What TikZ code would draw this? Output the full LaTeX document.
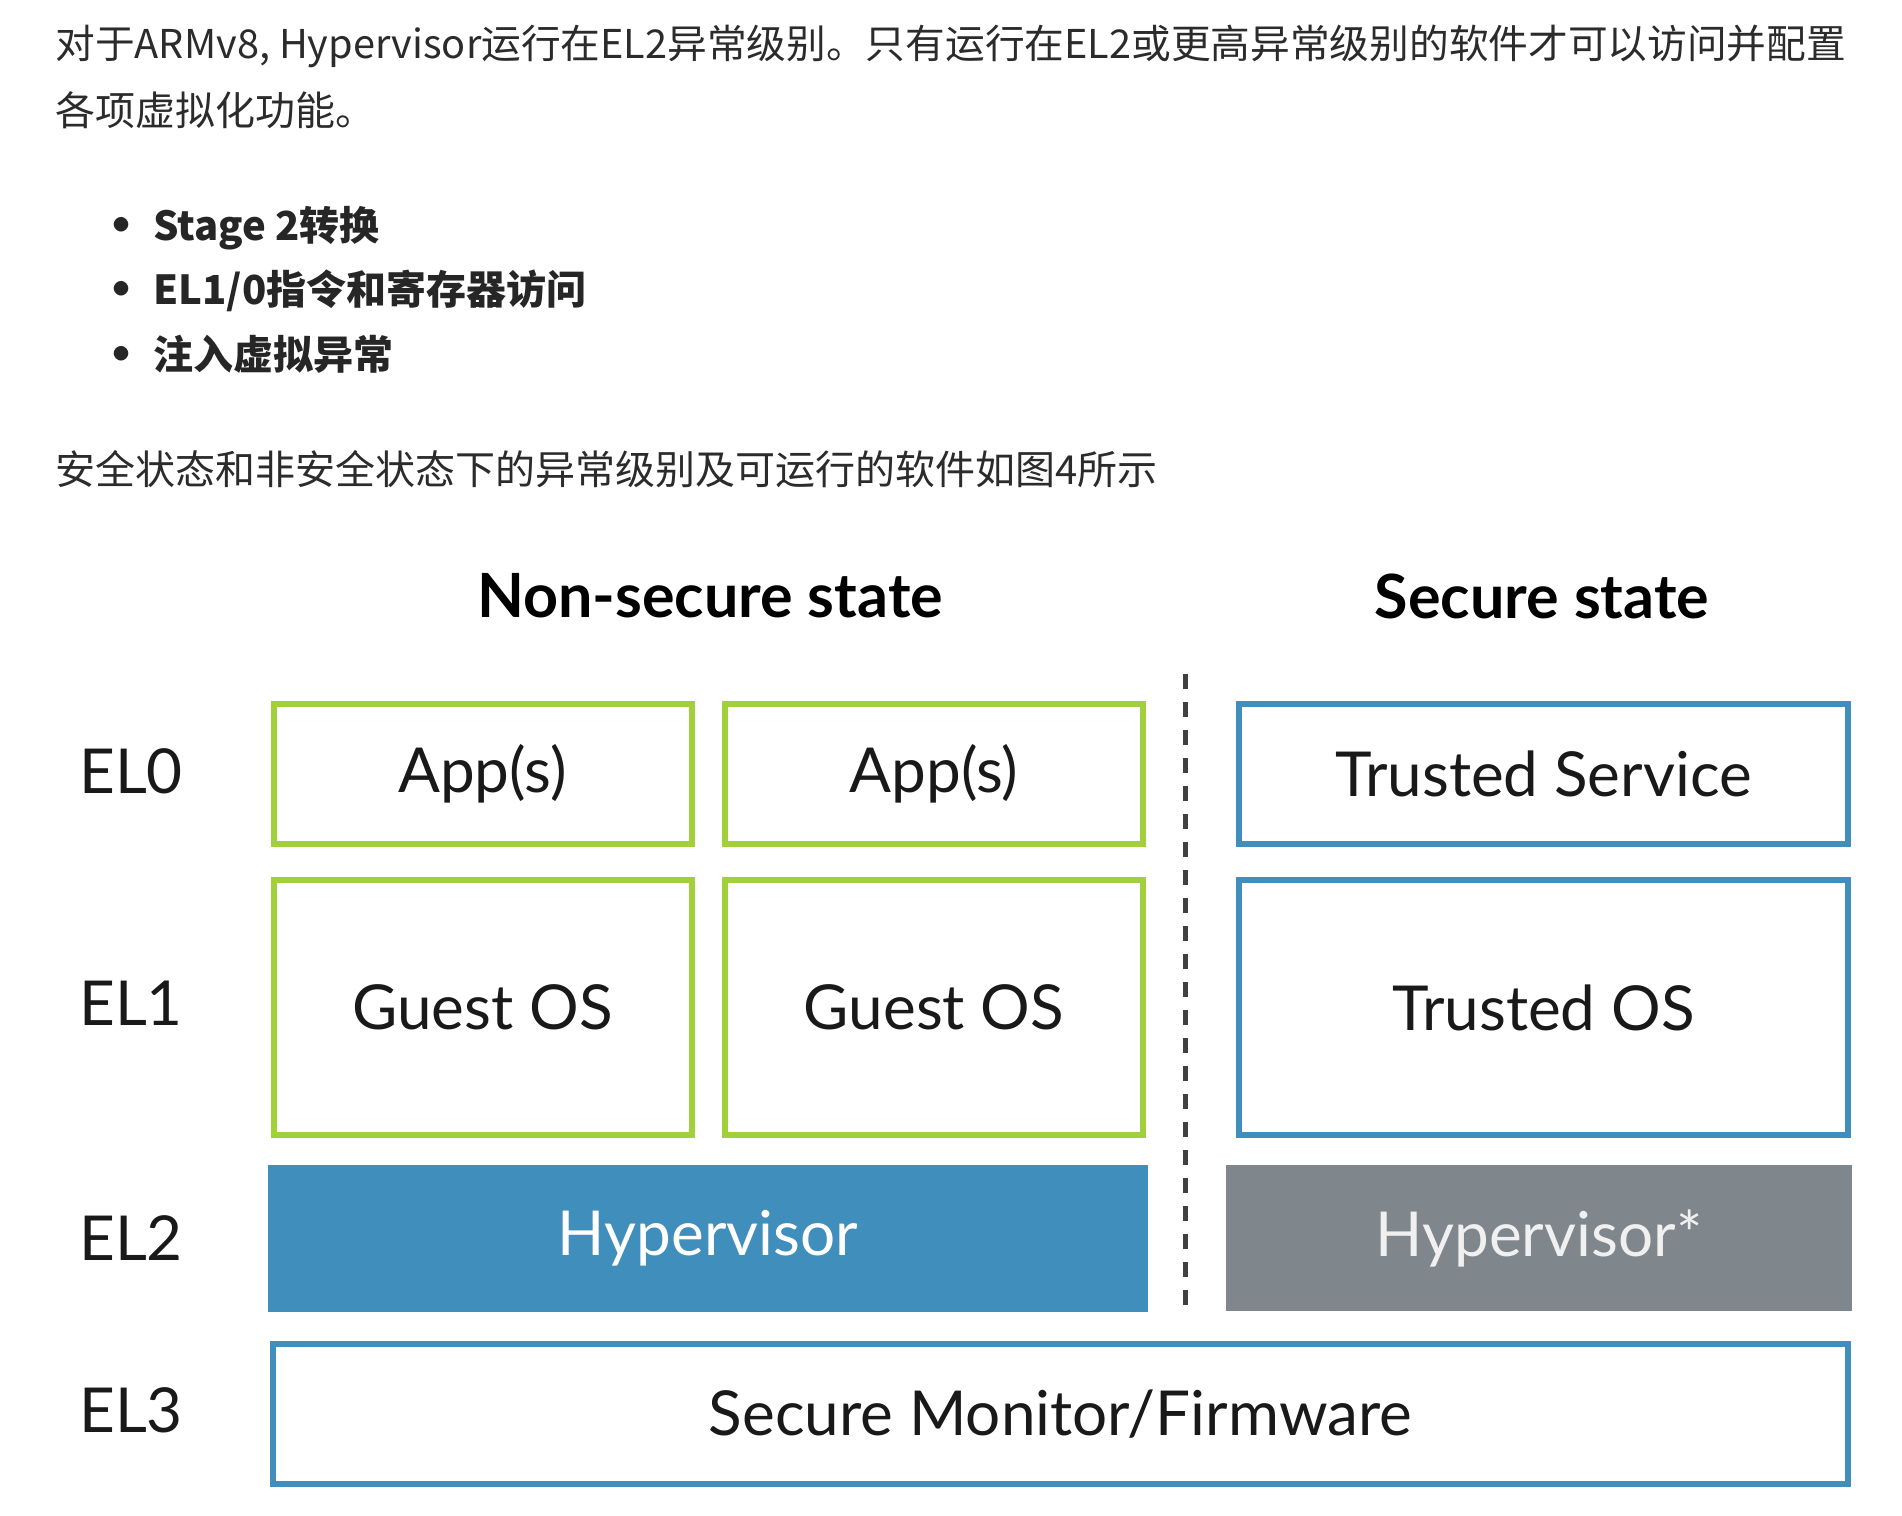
\documentclass[tikz,border=0pt]{standalone}
\usepackage{fontspec}
\setmainfont{Lato}
\newfontfamily\cjk{Noto Sans CJK SC}
\definecolor{nsgreen}{HTML}{A2D03C}
\definecolor{secblue}{HTML}{3F8EBB}
\definecolor{hypgray}{HTML}{7F868C}
\definecolor{bodytext}{HTML}{2B2B2B}

\begin{document}
\begin{tikzpicture}[x=0.5pt,y=-0.5pt]
    \tikzstyle{para}=[anchor=west,inner sep=0pt,text=bodytext,font=\cjk\fontsize{20pt}{24pt}\selectfont]
    \tikzstyle{item}=[para,anchor=base west,font=\cjk\bfseries\fontsize{20pt}{24pt}\selectfont,text=black!85]
    \tikzstyle{heading}=[inner sep=0pt,font=\bfseries\fontsize{30.5pt}{36pt}\selectfont]
    \tikzstyle{level}=[inner sep=0pt,font=\fontsize{31pt}{36pt}\selectfont,text=black!90]
    \tikzstyle{layer}=[draw,line width=3pt,inner sep=0pt,font=\fontsize{31pt}{36pt}\selectfont,text=black!90]
    \tikzstyle{ns layer}=[layer,draw=nsgreen];
    \tikzstyle{sec layer}=[layer,draw=secblue];
    \tikzstyle{hyp layer}=[inner sep=0pt,font=\fontsize{31pt}{36pt}\selectfont,text=white]

    \useasboundingbox (0,0) rectangle (1902,1516);

    % Text above the figure
    \node[para,font=\cjk\fontsize{19.85pt}{24pt}\selectfont] (line-1) at (55,46) {对于ARMv8, Hypervisor运行在EL2异常级别。只有运行在EL2或更高异常级别的软件才可以访问并配置};
    \node[para] (line-2) at (55,110) {各项虚拟化功能。};
    \foreach \name / \y / \txt in {1/240/{Stage 2转换}, 2/304/{EL1/0指令和寄存器访问}, 3/369/{注入虚拟异常}} {
        \node[item,anchor=base,yshift=-2pt,font=\cjk\bfseries\fontsize{26pt}{30pt}\selectfont] (dot-\name) at (121,\y) {•};
        \node[item] (item-\name) at (153,\y) {\txt};
    }
    \node[para] (line-3) at (55,469) {安全状态和非安全状态下的异常级别及可运行的软件如图4所示};

    % State headings
    \node[heading] (ns) at (710,596) {Non-secure state};
    \node[heading] (sec) at (1542,596) {Secure state};

    % Exception levels
    \node[level] (EL0) at (131,771) {EL0};
    \node[level] (EL1) at (131,1003) {EL1};
    \node[level] (EL2) at (131,1238) {EL2};
    \node[level] (EL3) at (131,1410) {EL3};

    % Non-secure side
    \node[ns layer,minimum width=209pt,minimum height=70pt] (app-1) at (482.5,774) {App(s)};
    \node[ns layer,minimum width=209pt,minimum height=70pt] (app-2) at (934,774) {App(s)};
    \node[ns layer,minimum width=209pt,minimum height=127.5pt] (guest-1) at (482.5,1007.5) {Guest OS};
    \node[ns layer,minimum width=209pt,minimum height=127.5pt] (guest-2) at (934,1007.5) {Guest OS};
    \node[hyp layer,fill=secblue,minimum width=440pt,minimum height=73.5pt] (hyp) at (708,1238.5) {Hypervisor};

    % Secure side
    \node[sec layer,minimum width=304.5pt,minimum height=70pt] (ts) at (1543.5,774) {Trusted Service};
    \node[sec layer,minimum width=304.5pt,minimum height=127.5pt] (tos) at (1543.5,1007.5) {Trusted OS};
    \node[hyp layer,fill=hypgray,text=white!94!black,minimum width=313pt,minimum height=73pt] (shyp) at (1539,1238) {Hypervisor*};

    % EL3 spans both states
    \node[sec layer,minimum width=787.5pt,minimum height=70pt] (smf) at (1060.5,1414) {Secure Monitor/Firmware};

    % Divider between the two states
    \coordinate (div-top) at (1185,674);
    \coordinate (div-bot) at (1185,1312);
    \draw[line width=2.5pt,draw=black!75,dash pattern=on 7.5pt off 6.5pt] (div-top) -- (div-bot);
\end{tikzpicture}
\end{document}
